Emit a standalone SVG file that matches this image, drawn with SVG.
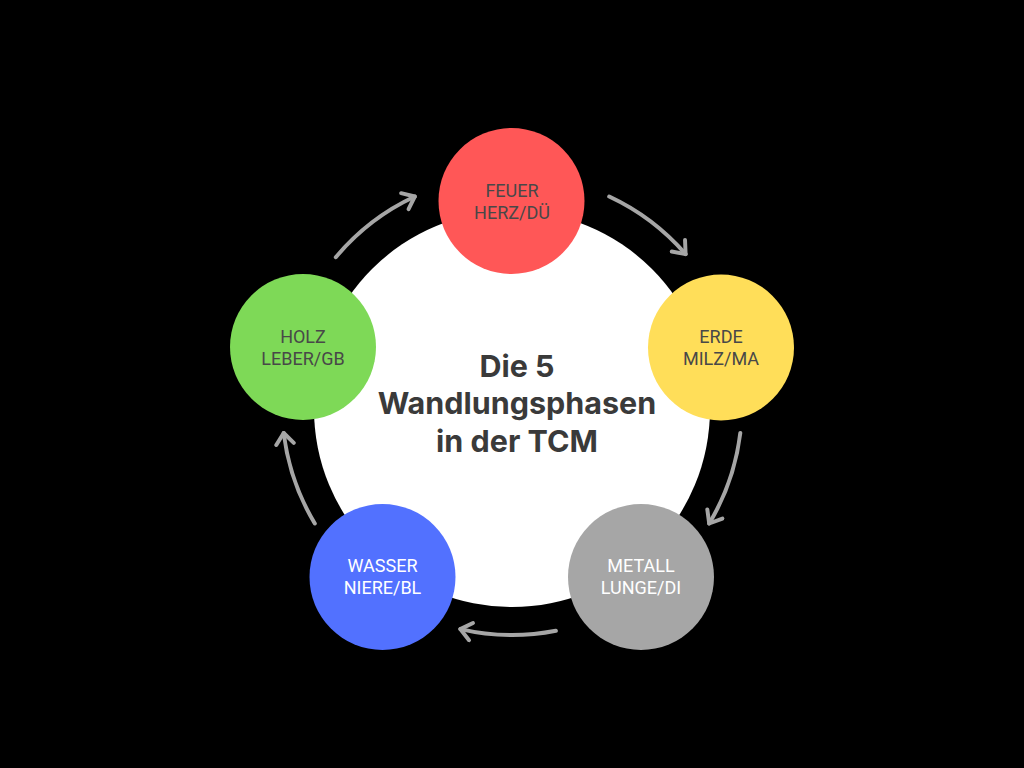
<svg xmlns="http://www.w3.org/2000/svg" width="1024" height="768" viewBox="0 0 1024 768">
<defs>
<style>
.arr{fill:none;stroke:#a6a6a6;stroke-width:4;stroke-linecap:round;marker-end:url(#chev)}
.lbl{font-family:Roboto,"Liberation Sans",sans-serif;font-size:18px;text-anchor:middle}
.dark{fill:#484848}
.light{fill:#ffffff}
.title{font-family:Inter,"Liberation Sans",sans-serif;font-size:30.5px;font-weight:bold;fill:#3a3a3a;text-anchor:middle}
</style>
<marker id="chev" viewBox="0 0 20 20" refX="14" refY="10" markerWidth="22" markerHeight="22" markerUnits="userSpaceOnUse" orient="auto">
<path d="M4,2 L14,10 L4,18" fill="none" stroke="#a6a6a6" stroke-width="3.6" stroke-linecap="round" stroke-linejoin="round"/>
</marker>
</defs>
<rect width="1024" height="768" fill="#000000"/>
<g id="center">
<circle cx="512" cy="409" r="198" fill="#ffffff"/>
<text class="title" x="517" y="377">Die 5</text>
<text class="title" x="517" y="414">Wandlungsphasen</text>
<text class="title" x="517" y="452">in der TCM</text>
</g>
<g id="connectors">
<path class="arr" d="M335.8,257.2 A230,230 0 0 1 414.8,196.5"/>
<path class="arr" d="M609.2,196.5 A230,230 0 0 1 685.6,254.1"/>
<path class="arr" d="M740.3,433.0 A230,230 0 0 1 709.2,523.5"/>
<path class="arr" d="M555.9,630.8 A230,230 0 0 1 460.3,629.1"/>
<path class="arr" d="M314.8,523.5 A230,230 0 0 1 283.7,433.0"/>
</g>
<g id="feuer">
<circle cx="511.5" cy="201" r="73" fill="#ff5757"/>
<text class="lbl dark" x="512" y="197">FEUER</text>
<text class="lbl dark" x="512" y="219">HERZ/DÜ</text>
</g>
<g id="erde">
<circle cx="721" cy="347.5" r="73" fill="#ffde59"/>
<text class="lbl dark" x="721" y="343">ERDE</text>
<text class="lbl dark" x="721" y="365">MILZ/MA</text>
</g>
<g id="metall">
<circle cx="641" cy="577" r="73" fill="#a6a6a6"/>
<text class="lbl light" x="641" y="572">METALL</text>
<text class="lbl light" x="641" y="594">LUNGE/DI</text>
</g>
<g id="wasser">
<circle cx="382.5" cy="577" r="73" fill="#5271ff"/>
<text class="lbl light" x="382.5" y="572">WASSER</text>
<text class="lbl light" x="382.5" y="594">NIERE/BL</text>
</g>
<g id="holz">
<circle cx="303" cy="347" r="73" fill="#7ed957"/>
<text class="lbl dark" x="303" y="343">HOLZ</text>
<text class="lbl dark" x="303" y="365">LEBER/GB</text>
</g>
</svg>
